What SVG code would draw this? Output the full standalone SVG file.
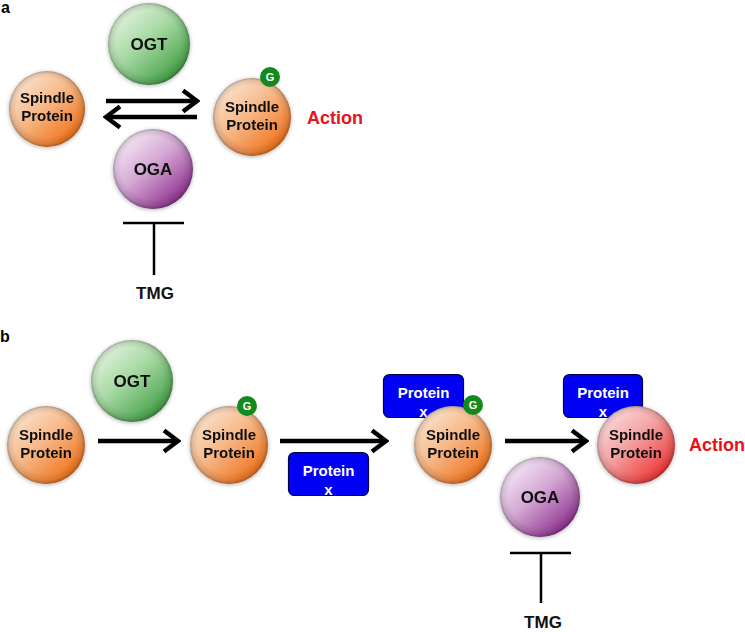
<svg xmlns="http://www.w3.org/2000/svg" width="745" height="632" viewBox="0 0 745 632">
  <style>
    .lbl { font-family: "Liberation Sans", Arial, sans-serif; font-weight: bold; }
    .sp { font-size: 15px; fill: #111; text-anchor: middle; }
    .enz { font-size: 17px; fill: #111; text-anchor: middle; }
    .act { font-size: 18px; fill: #e8101a; }
    .px { font-size: 15px; fill: #fff; text-anchor: middle; }
    .g { font-size: 11px; fill: #fff; text-anchor: middle; }
    .panel { font-size: 16px; fill: #000; }
    .box { fill: #0000f5; stroke: #00004a; stroke-width: 1.2; }
    .gdot { fill: #138a1e; }
    .arrow { stroke: #000; stroke-width: 4.5; fill: none; }
    .tbar { stroke: #000; stroke-width: 2.5; fill: none; }
    .rim { fill: url(#gRim); }
  </style>
  <defs>
    <linearGradient id="gOrange" x1="0.15" y1="0.1" x2="0.85" y2="0.9">
      <stop offset="0" stop-color="#fbe2cc"/>
      <stop offset="0.45" stop-color="#f6b888"/>
      <stop offset="1" stop-color="#f07018"/>
    </linearGradient>
    <linearGradient id="gGreen" x1="0.15" y1="0.1" x2="0.85" y2="0.9">
      <stop offset="0" stop-color="#e2f3de"/>
      <stop offset="0.45" stop-color="#a6d8a2"/>
      <stop offset="1" stop-color="#3f9e44"/>
    </linearGradient>
    <linearGradient id="gPurple" x1="0.15" y1="0.1" x2="0.85" y2="0.9">
      <stop offset="0" stop-color="#f6e8f6"/>
      <stop offset="0.45" stop-color="#d4a8d4"/>
      <stop offset="1" stop-color="#8e2e8e"/>
    </linearGradient>
    <linearGradient id="gPink" x1="0.15" y1="0.1" x2="0.85" y2="0.9">
      <stop offset="0" stop-color="#fbd8d8"/>
      <stop offset="0.45" stop-color="#f4a0a0"/>
      <stop offset="1" stop-color="#ee3030"/>
    </linearGradient>
    <radialGradient id="gRim" cx="0.5" cy="0.5" r="0.5" fx="0.45" fy="0.42">
      <stop offset="0.78" stop-color="#000" stop-opacity="0"/>
      <stop offset="0.93" stop-color="#000" stop-opacity="0.1"/>
      <stop offset="1" stop-color="#000" stop-opacity="0.3"/>
    </radialGradient>
    <filter id="glow" x="-20%" y="-20%" width="140%" height="140%">
      <feGaussianBlur in="SourceAlpha" stdDeviation="2"/>
      <feOffset dx="0" dy="1" result="b"/>
      <feComponentTransfer><feFuncA type="linear" slope="0.3"/></feComponentTransfer>
      <feMerge><feMergeNode/><feMergeNode in="SourceGraphic"/></feMerge>
    </filter>
    <marker id="head" viewBox="0 0 20 26" refX="17" refY="13" markerWidth="20" markerHeight="26" markerUnits="userSpaceOnUse" orient="auto">
      <path d="M3,2.5 L17,13 L3,23.5" fill="none" stroke="#000" stroke-width="4.5" stroke-linejoin="miter"/>
    </marker>
  </defs>

  <!-- Panel labels -->
  <text class="lbl panel" x="1" y="13">a</text>
  <text class="lbl panel" x="0" y="342">b</text>

  <!-- Panel a -->
  <g id="a-ogt" filter="url(#glow)">
    <circle cx="149" cy="44" r="41" fill="url(#gGreen)"/>
    <circle class="rim" cx="149" cy="44" r="41"/>
    <text class="lbl enz" x="149" y="50">OGT</text>
  </g>
  <g id="a-spindle1" filter="url(#glow)">
    <circle cx="47" cy="109" r="38" fill="url(#gOrange)"/>
    <circle class="rim" cx="47" cy="109" r="38"/>
    <text class="lbl sp" x="47" y="103">Spindle</text>
    <text class="lbl sp" x="47" y="121">Protein</text>
  </g>
  <g id="a-spindle2" filter="url(#glow)">
    <circle cx="252" cy="117" r="39" fill="url(#gOrange)"/>
    <circle class="rim" cx="252" cy="117" r="39"/>
    <text class="lbl sp" x="252" y="112">Spindle</text>
    <text class="lbl sp" x="252" y="130">Protein</text>
  </g>
  <g id="a-g">
    <circle class="gdot" cx="270" cy="77" r="10"/>
    <text class="lbl g" x="270" y="81">G</text>
  </g>
  <g id="a-action">
    <text class="lbl act" x="307" y="124">Action</text>
  </g>
  <g id="a-oga" filter="url(#glow)">
    <circle cx="153" cy="169" r="40" fill="url(#gPurple)"/>
    <circle class="rim" cx="153" cy="169" r="40"/>
    <text class="lbl enz" x="153" y="175">OGA</text>
  </g>
  <g id="a-tmg">
    <text class="lbl enz" x="155" y="299">TMG</text>
  </g>

  <!-- Panel b -->
  <g id="b-ogt" filter="url(#glow)">
    <circle cx="132" cy="381" r="41" fill="url(#gGreen)"/>
    <circle class="rim" cx="132" cy="381" r="41"/>
    <text class="lbl enz" x="132" y="387">OGT</text>
  </g>
  <g id="b-spindle1" filter="url(#glow)">
    <circle cx="46" cy="445" r="39" fill="url(#gOrange)"/>
    <circle class="rim" cx="46" cy="445" r="39"/>
    <text class="lbl sp" x="46" y="440">Spindle</text>
    <text class="lbl sp" x="46" y="458">Protein</text>
  </g>
  <g id="b-spindle2" filter="url(#glow)">
    <circle cx="229" cy="445" r="39" fill="url(#gOrange)"/>
    <circle class="rim" cx="229" cy="445" r="39"/>
    <text class="lbl sp" x="229" y="440">Spindle</text>
    <text class="lbl sp" x="229" y="458">Protein</text>
  </g>
  <g id="b-g2">
    <circle class="gdot" cx="247" cy="406" r="10"/>
    <text class="lbl g" x="247" y="410">G</text>
  </g>
  <g id="b-proteinx1">
    <rect class="box" x="288.5" y="452.5" width="80" height="43" rx="6"/>
    <text class="lbl px" x="328.5" y="476">Protein</text>
    <text class="lbl px" x="328.5" y="495">x</text>
  </g>
  <g id="b-proteinx2">
    <rect class="box" x="383.5" y="374.5" width="80" height="43" rx="6"/>
    <text class="lbl px" x="423.5" y="398">Protein</text>
    <text class="lbl px" x="423.5" y="417">x</text>
  </g>
  <g id="b-spindle3" filter="url(#glow)">
    <circle cx="453" cy="445" r="39" fill="url(#gOrange)"/>
    <circle class="rim" cx="453" cy="445" r="39"/>
    <text class="lbl sp" x="453" y="440">Spindle</text>
    <text class="lbl sp" x="453" y="458">Protein</text>
  </g>
  <g id="b-g3">
    <circle class="gdot" cx="473" cy="405" r="10"/>
    <text class="lbl g" x="473" y="409">G</text>
  </g>
  <g id="b-proteinx3">
    <rect class="box" x="563.5" y="374.5" width="79" height="43" rx="6"/>
    <text class="lbl px" x="603" y="398">Protein</text>
    <text class="lbl px" x="603" y="417">x</text>
  </g>
  <g id="b-spindle4" filter="url(#glow)">
    <circle cx="636" cy="445" r="39" fill="url(#gPink)"/>
    <circle class="rim" cx="636" cy="445" r="39"/>
    <text class="lbl sp" x="636" y="440">Spindle</text>
    <text class="lbl sp" x="636" y="458">Protein</text>
  </g>
  <g id="b-action">
    <text class="lbl act" x="689" y="451">Action</text>
  </g>
  <g id="b-oga" filter="url(#glow)">
    <circle cx="540" cy="497" r="40" fill="url(#gPurple)"/>
    <circle class="rim" cx="540" cy="497" r="40"/>
    <text class="lbl enz" x="540" y="503">OGA</text>
  </g>
  <g id="b-tmg">
    <text class="lbl enz" x="543" y="628">TMG</text>
  </g>

  <!-- Connectors -->
  <g id="connectors">
    <line class="arrow" x1="106" y1="101" x2="197" y2="101" marker-end="url(#head)"/>
    <line class="arrow" x1="197" y1="117" x2="106" y2="117" marker-end="url(#head)"/>
    <path class="tbar" d="M123,223 H184 M154,223 V275"/>
    <line class="arrow" x1="98" y1="441" x2="178" y2="441" marker-end="url(#head)"/>
    <line class="arrow" x1="280" y1="441" x2="386" y2="441" marker-end="url(#head)"/>
    <line class="arrow" x1="505" y1="441" x2="586" y2="441" marker-end="url(#head)"/>
    <path class="tbar" d="M510,553 H571 M541,553 V603"/>
  </g>
</svg>
